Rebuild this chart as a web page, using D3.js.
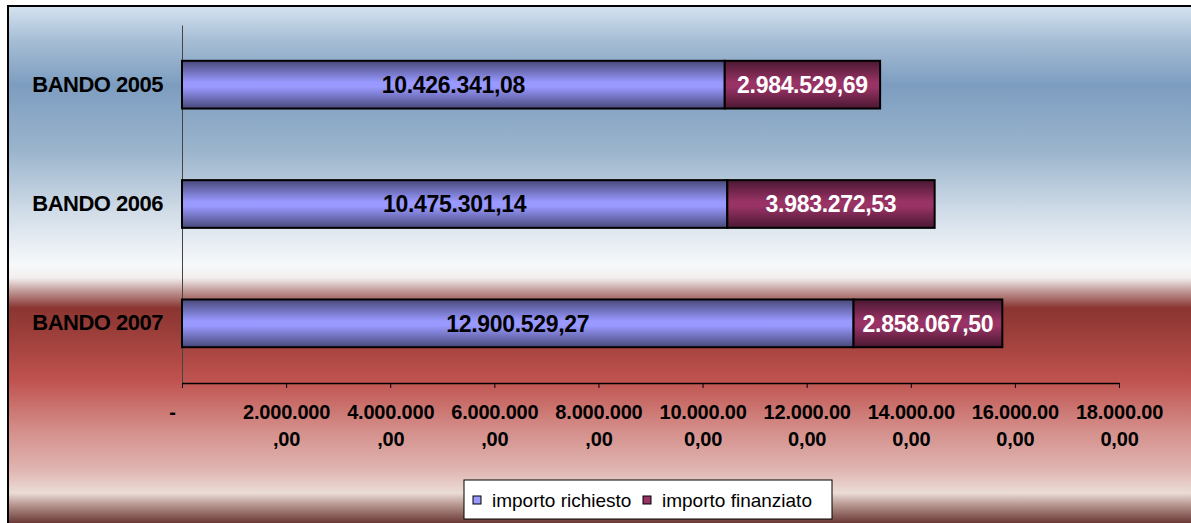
<!DOCTYPE html>
<html>
<head>
<meta charset="utf-8">
<script src="https://cdn.jsdelivr.net/npm/d3@7"></script>
<style>
  body { margin: 0; background: #fff; }
  svg { display: block; font-family: "Liberation Sans", Arial, sans-serif; }
</style>
</head>
<body>
<div id="chart"></div>
<script>
// data
const categories = ['BANDO 2005', 'BANDO 2006', 'BANDO 2007'];
const importoRichiesto = [10426341.08, 10475301.14, 12900529.27];
const importoFinanziato = [2984529.69, 3983272.53, 2858067.5];
const seriesNames = ['importo richiesto', 'importo finanziato'];
const tickValues = [0, 2000000, 4000000, 6000000, 8000000, 10000000, 12000000, 14000000, 16000000, 18000000];
const tickLabels = ['-', '2.000.000,00', '4.000.000,00', '6.000.000,00', '8.000.000,00',
    '10.000.000,00', '12.000.000,00', '14.000.000,00', '16.000.000,00', '18.000.000,00'];

const width = 1191, height = 523;
const plot = { left: 182, right: 1119, top: 25, bottom: 383 };

const it = d3.formatLocale({ decimal: ',', thousands: '.', grouping: [3], currency: ['', ''] });
const fmt = it.format(',.2f');

const svg = d3.select('#chart').append('svg')
    .attr('width', width)
    .attr('height', height);

const defs = svg.append('defs');

// background gradient
const bg = defs.append('linearGradient').attr('id', 'bg')
    .attr('gradientUnits', 'userSpaceOnUse')
    .attr('x1', 0).attr('y1', 6).attr('x2', 0).attr('y2', height);
[
    [6, '#d5e3f0'], [40, '#a6bed5'], [85, '#7d9dc0'], [150, '#9ab4cc'],
    [215, '#d3dee9'], [265, '#f7f9fb'], [278, '#f2eeee'], [290, '#c49f9d'],
    [308, '#8a3531'], [330, '#9a3d39'], [380, '#bf524e'], [430, '#d48e8a'],
    [470, '#e0b5b1'], [493, '#ebdcd6'], [505, '#b6958f'], [523, '#6a3935']
].forEach(([y, c]) => {
    bg.append('stop').attr('offset', (y - 6) / (height - 6)).attr('stop-color', c);
});

function barGradient(id, dark, light) {
    const g = defs.append('linearGradient').attr('id', id)
        .attr('x1', 0).attr('y1', 0).attr('x2', 0).attr('y2', 1);
    g.append('stop').attr('offset', 0).attr('stop-color', dark);
    g.append('stop').attr('offset', 0.45).attr('stop-color', light);
    g.append('stop').attr('offset', 0.55).attr('stop-color', light);
    g.append('stop').attr('offset', 1).attr('stop-color', dark);
}
barGradient('gBlue', '#48487a', '#9999ff');
barGradient('gPurple', '#4a1831', '#993366');

// frame
svg.append('rect')
    .attr('x', 8).attr('y', 6)
    .attr('width', width + 10).attr('height', height + 10)
    .attr('fill', 'url(#bg)')
    .attr('stroke', '#000').attr('stroke-width', 2);

const x = d3.scaleLinear().domain([0, 18000000]).range([plot.left, plot.right]);
const y = d3.scaleBand().domain(categories).range([plot.top, plot.bottom]).paddingInner(0.6).paddingOuter(0.3);

// y axis
const yAxis = svg.append('g')
    .attr('transform', `translate(${plot.left},0)`)
    .call(d3.axisLeft(y).tickSize(0).tickSizeOuter(0).tickPadding(19));
yAxis.select('.domain').attr('stroke', '#444').attr('stroke-width', 1);
yAxis.selectAll('text')
    .attr('font-size', 22).attr('font-weight', 'bold')
    .attr('letter-spacing', '-0.5px').attr('fill', '#000')
    .attr('font-family', '"Liberation Sans", Arial, sans-serif');

// stacked bars
const rows = categories.map((c, i) => ({ cat: c, a: importoRichiesto[i], b: importoFinanziato[i] }));
const bars = svg.append('g');
bars.selectAll('rect.a').data(rows).enter().append('rect')
    .attr('x', x(0))
    .attr('y', (d) => y(d.cat))
    .attr('width', (d) => x(d.a) - x(0))
    .attr('height', y.bandwidth())
    .attr('fill', 'url(#gBlue)')
    .attr('stroke', '#000').attr('stroke-width', 2);
bars.selectAll('rect.b').data(rows).enter().append('rect')
    .attr('x', (d) => x(d.a))
    .attr('y', (d) => y(d.cat))
    .attr('width', (d) => x(d.a + d.b) - x(d.a))
    .attr('height', y.bandwidth())
    .attr('fill', 'url(#gPurple)')
    .attr('stroke', '#000').attr('stroke-width', 2);

// value labels
bars.selectAll('text.a').data(rows).enter().append('text')
    .attr('x', (d) => (x(0) + x(d.a)) / 2)
    .attr('y', (d) => y(d.cat) + y.bandwidth() / 2)
    .attr('dy', '0.36em')
    .attr('text-anchor', 'middle')
    .attr('font-size', 23).attr('font-weight', 'bold').attr('fill', '#000')
    .attr('letter-spacing', '-0.3px')
    .text((d) => fmt(d.a));
bars.selectAll('text.b').data(rows).enter().append('text')
    .attr('x', (d) => (x(d.a) + x(d.a + d.b)) / 2)
    .attr('y', (d) => y(d.cat) + y.bandwidth() / 2)
    .attr('dy', '0.36em')
    .attr('text-anchor', 'middle')
    .attr('font-size', 23).attr('font-weight', 'bold').attr('fill', '#fff')
    .attr('letter-spacing', '-0.3px')
    .text((d) => fmt(d.b));

// x axis
const xAxis = svg.append('g')
    .attr('transform', `translate(0,${plot.bottom})`)
    .call(d3.axisBottom(x).tickValues(tickValues).tickSize(5).tickSizeOuter(0)
        .tickFormat((d, i) => tickLabels[i]));
xAxis.select('.domain').attr('stroke', '#000').attr('stroke-width', 1.5);
xAxis.selectAll('.tick line').attr('stroke', '#000');
xAxis.selectAll('.tick text').each(function (d, i) {
    const label = tickLabels[i];
    const t = d3.select(this).text(null)
        .attr('font-size', 20).attr('font-weight', 'bold').attr('fill', '#000')
        .attr('letter-spacing', '-0.2px')
        .attr('font-family', '"Liberation Sans", Arial, sans-serif')
        .attr('y', 36).attr('dy', 0);
    if (label === '-') {
        t.append('tspan').attr('x', -10).attr('dy', 0).text(label);
        return;
    }
    t.append('tspan').attr('x', 0).attr('dy', 0).text(label.slice(0, 9));
    t.append('tspan').attr('x', 0).attr('dy', 27).text(label.slice(9));
});

// legend
const legend = svg.append('g').attr('transform', 'translate(464,480)');
legend.append('rect')
    .attr('width', 368).attr('height', 39)
    .attr('fill', '#fff').attr('stroke', '#000').attr('stroke-width', 1);
const legendFills = ['#9999ff', '#993366'];
const legendX = [9, 179];
seriesNames.forEach((name, i) => {
    const g = legend.append('g').attr('transform', `translate(${legendX[i]},16)`);
    g.append('rect').attr('width', 8).attr('height', 8)
        .attr('fill', legendFills[i]).attr('stroke', '#000').attr('stroke-width', 1);
    g.append('text')
        .attr('x', 19).attr('y', 4).attr('dy', '0.36em')
        .attr('font-size', 19).attr('fill', '#000')
        .text(name);
});
</script>
</body>
</html>
